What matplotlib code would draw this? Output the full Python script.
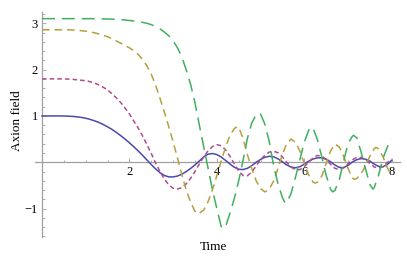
import matplotlib.pyplot as plt
import numpy as np
from matplotlib.ticker import MultipleLocator

# sample times shared by all four curves
time = [0.0, 0.1, 0.2, 0.3, 0.4, 0.5, 0.6, 0.7, 0.8, 0.9,
        1.0, 1.1, 1.2, 1.3, 1.4, 1.5, 1.6, 1.7, 1.8, 1.9,
        2.0, 2.1, 2.2, 2.3, 2.4, 2.5, 2.6, 2.7, 2.8, 2.9,
        3.0, 3.1, 3.2, 3.3, 3.4, 3.5, 3.6, 3.7, 3.8, 3.9,
        4.0, 4.1, 4.2, 4.3, 4.4, 4.5, 4.6, 4.7, 4.8, 4.9,
        5.0, 5.1, 5.2, 5.3, 5.4, 5.5, 5.6, 5.7, 5.8, 5.9,
        6.0, 6.1, 6.2, 6.3, 6.4, 6.5, 6.6, 6.7, 6.8, 6.9,
        7.0, 7.1, 7.2, 7.3, 7.4, 7.5, 7.6, 7.7, 7.8, 7.9,
        8.0]

blue = [1.0, 1.0, 1.0, 1.0, 1.0, 0.998, 0.995, 0.99, 0.98, 0.968,
        0.95, 0.925, 0.895, 0.86, 0.815, 0.765, 0.71, 0.645, 0.575, 0.50,
        0.42, 0.335, 0.245, 0.15, 0.05, -0.05, -0.145, -0.226, -0.285, -0.316,
        -0.317, -0.297, -0.258, -0.202, -0.134, -0.057, 0.029, 0.116, 0.175, 0.189,
        0.166, 0.113, 0.040, -0.039, -0.108, -0.151, -0.158, -0.130, -0.073, 0.0,
        0.061, 0.108, 0.129, 0.118, 0.073, 0.007, -0.058, -0.105, -0.12, -0.096,
        -0.041, 0.022, 0.069, 0.096, 0.096, 0.064, 0.012, -0.06, -0.111, -0.116,
        -0.069, 0.005, 0.055, 0.079, 0.067, 0.023, -0.040, -0.089, -0.097, -0.048,
        0.04]

magenta = [1.80, 1.80, 1.80, 1.80, 1.80, 1.80, 1.795, 1.79, 1.78, 1.77,
           1.76, 1.74, 1.71, 1.67, 1.62, 1.56, 1.48, 1.39, 1.29, 1.17,
           1.04, 0.89, 0.74, 0.57, 0.38, 0.19, -0.019, -0.20, -0.362, -0.487,
           -0.561, -0.579, -0.545, -0.465, -0.346, -0.198, -0.034, 0.117, 0.247, 0.339,
           0.379, 0.357, 0.269, 0.130, -0.035, -0.193, -0.287, -0.29, -0.212, -0.078,
           0.055, 0.153, 0.22, 0.24, 0.204, 0.116, 0.0, -0.104, -0.164, -0.159,
           -0.097, 0.0, 0.095, 0.147, 0.133, 0.06, -0.043, -0.131, -0.16, -0.12,
           -0.031, 0.053, 0.103, 0.103, 0.053, -0.026, -0.101, -0.13, -0.095, -0.01,
           0.07]

olive = [2.86, 2.86, 2.86, 2.86, 2.86, 2.86, 2.86, 2.855, 2.85, 2.84,
         2.83, 2.815, 2.795, 2.77, 2.74, 2.71, 2.67, 2.62, 2.57, 2.52,
         2.47, 2.41, 2.33, 2.22, 2.08, 1.90, 1.66, 1.38, 1.08, 0.77,
         0.44, 0.09, -0.27, -0.60, -0.86, -1.06, -1.10, -1.03, -0.85, -0.59,
         -0.29, 0.03, 0.33, 0.58, 0.73, 0.75, 0.52, 0.16, -0.14, -0.40,
         -0.57, -0.64, -0.58, -0.40, -0.13, 0.17, 0.41, 0.50, 0.43, 0.24,
         -0.02, -0.27, -0.43, -0.43, -0.30, -0.03, 0.24, 0.39, 0.33, 0.13,
         -0.13, -0.34, -0.35, -0.25, -0.08, 0.13, 0.29, 0.29, 0.12, -0.12,
         -0.29]
olive_peak_t = [3.56, 4.47, 6.25, 6.71, 7.15, 7.64]
olive_peak_y = [-1.11, 0.77, -0.45, 0.39, -0.37, 0.32]

green = [3.10, 3.10, 3.10, 3.10, 3.10, 3.10, 3.10, 3.10, 3.10, 3.10,
         3.10, 3.10, 3.098, 3.096, 3.094, 3.092, 3.09, 3.085, 3.08, 3.07,
         3.06, 3.05, 3.04, 3.02, 3.00, 2.97, 2.93, 2.88, 2.81, 2.73,
         2.62, 2.47, 2.27, 1.99, 1.68, 1.28, 0.80, 0.33, -0.13, -0.60,
         -1.00, -1.39, -1.39, -1.10, -0.78, -0.40, 0.04, 0.52, 0.85, 1.03,
         1.04, 0.82, 0.44, -0.08, -0.47, -0.76, -0.87, -0.67, -0.32, 0.06,
         0.43, 0.69, 0.74, 0.49, 0.12, -0.28, -0.58, -0.61, -0.38, 0.02,
         0.40, 0.56, 0.53, 0.22, -0.14, -0.48, -0.55, -0.28, 0.08, 0.33,
         0.50]
green_peak_t = [4.15, 4.95, 5.56, 6.15, 6.65, 7.13, 7.57]
green_peak_y = [-1.43, 1.06, -0.88, 0.76, -0.64, 0.58, -0.58]


def with_peaks(t, y, pt, py):
    tt = np.concatenate([t, pt])
    yy = np.concatenate([y, py])
    order = np.argsort(tt)
    return tt[order], yy[order]


fig = plt.figure(figsize=(4.07, 2.59), dpi=100)
ax = fig.add_axes([0.086, 0.0861, 0.8968, 0.8687])
ax.set_xlim(-0.16, 8.19)
ax.set_ylim(-1.607, 3.25)

axis_gray = '#a0a0a0'
for side in ['top', 'right']:
    ax.spines[side].set_visible(False)
for side in ['left', 'bottom']:
    ax.spines[side].set_position(('data', 0))
    ax.spines[side].set_color(axis_gray)
    ax.spines[side].set_linewidth(0.9)
    ax.spines[side].set_zorder(1)

ax.set_xticks([2, 4, 6, 8])
ax.set_yticks([-1, 1, 2, 3])
ax.xaxis.set_minor_locator(MultipleLocator(0.5))
ax.yaxis.set_minor_locator(MultipleLocator(0.2))
ax.tick_params(which='both', direction='in', color=axis_gray, width=0.6,
               labelsize=9, labelfontfamily='Liberation Serif')
ax.tick_params(which='major', length=3.2)
ax.tick_params(which='minor', length=1.8)
ax.tick_params(axis='x', pad=2.5)
ax.tick_params(axis='y', pad=3)

t = np.array(time)
ax.plot(t, blue, color='#4a4aaa', lw=1.1, zorder=3)
ax.plot(t, magenta, color='#b04c8c', lw=1.1, dashes=(3, 2), zorder=3)
ot, oy = with_peaks(t, olive, olive_peak_t, olive_peak_y)
ax.plot(ot, oy, color='#b5a040', lw=1.1, dashes=(5, 3.2), zorder=3)
gt, gy = with_peaks(t, green, green_peak_t, green_peak_y)
ax.plot(gt, gy, color='#40b060', lw=1.1, dashes=(8.5, 4.5), zorder=3)

fig.text(213 / 407, 1 - 246.7 / 259, 'Time', ha='center', va='center',
         fontsize=9.5, family='Liberation Serif')
fig.text(17 / 407, 1 - 121 / 259, 'Axion field', ha='center', va='center',
         rotation=90, fontsize=9.5, family='Liberation Serif')

fig.savefig('out.png', dpi=100)
